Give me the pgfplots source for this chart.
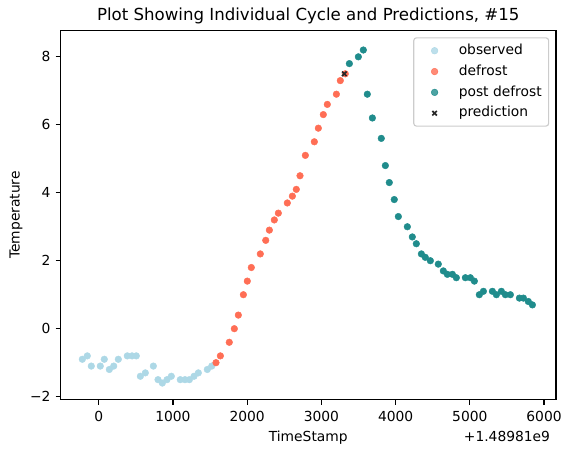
\documentclass[border=0pt]{standalone}
\usepackage{pgfplots}
\pgfplotsset{compat=1.18}
\usepackage{fontspec}
\setmainfont{DejaVu Sans}
\definecolor{obs}{RGB}{173,216,230}
\definecolor{dfr}{RGB}{255,110,85}
\definecolor{pdf}{RGB}{32,140,140}
\definecolor{prd}{RGB}{40,40,40}
\definecolor{lgd}{RGB}{204,204,204}
\pgfplotsset{lgmark/.style={legend image code/.code={\path[draw=none,fill=none] (0bp,0bp) (20bp,0bp);\draw[mark repeat=2,mark phase=2,##1] plot coordinates {(0bp,0bp)(10bp,0bp)(20bp,0bp)};}}}
\begin{document}
\begin{tikzpicture}
\path[use as bounding box] (-43.56bp,-38.38bp) rectangle (367.56bp,287.8bp);
\begin{axis}[
  scale only axis,
  width=356.76bp, height=265.97bp,
  xmin=-515, xmax=6161, ymin=-2.09, ymax=8.78,
  axis line style={line width=0.8bp},
  tick style={line width=0.8bp, black},
  tick align=outside, major tick length=3.5bp,
  xtick pos=bottom, ytick pos=left,
  xtick={0,1000,2000,3000,4000,5000,6000},
  xticklabels={0,1000,2000,3000,4000,5000,6000},
  ytick={-2,0,2,4,6,8},
  yticklabels={−2,0,2,4,6,8},
  scaled x ticks=false,
  tick label style={font=\fontsize{10}{12}\selectfont},
  xticklabel style={inner sep=3.5bp, yshift=-1bp},
  yticklabel style={inner sep=3.5bp},
  title={Plot Showing Individual Cycle and Predictions, \#15},
  title style={at={(axis description cs:0.5,1)}, anchor=base, yshift=1.3bp, font=\fontsize{12}{14}\selectfont},
  xlabel={TimeStamp},
  xlabel style={at={(axis description cs:0.5,-0.112)}, anchor=base, font=\fontsize{10}{12}\selectfont},
  ylabel={Temperature},
  ylabel style={at={(axis description cs:-0.090,0.5)}, anchor=center, font=\fontsize{10}{12}\selectfont},
  legend cell align=left,
  legend style={at={(rel axis cs:1,1)}, anchor=north east, xshift=-4.9bp, yshift=-5bp,
    draw=lgd, line width=0.8bp, rounded corners=2bp, fill=white, fill opacity=0.8, text opacity=1,
    font=\fontsize{10}{12}\selectfont, inner xsep=5bp, inner ysep=2.8bp, row sep=2bp,
    nodes={inner xsep=0pt, inner ysep=1.5bp, text height=7.6bp, text depth=2.4bp},
    /tikz/every odd column/.append style={column sep=7.4bp}},
]
\addplot[only marks, lgmark, mark=*, mark size=2.4bp, mark options={fill=obs, draw=obs, line width=0.3bp}] coordinates {
(-221,-0.9) (-154,-0.8) (-100,-1.1) (21,-1.1) (75,-0.9) (143,-1.2) (202,-1.1) (264,-0.9)
(385,-0.8) (449,-0.8) (506,-0.8) (561,-1.4) (628,-1.3) (736,-1.1) (799,-1.5) (857,-1.6)
(920,-1.5) (978,-1.4) (1099,-1.5) (1162,-1.5) (1221,-1.5) (1284,-1.4) (1342,-1.3) (1463,-1.2) (1523,-1.1)
};
\addlegendentry{observed}
\addplot[only marks, lgmark, mark=*, mark size=2.4bp, mark options={fill=dfr, draw=dfr, line width=0.3bp}] coordinates {
(1580,-1.0) (1639,-0.8) (1759,-0.4) (1827,0.0) (1881,0.4) (1949,1.0) (2002,1.4) (2056,1.8)
(2177,2.2) (2250,2.6) (2299,2.9) (2366,3.2) (2420,3.4) (2541,3.7) (2609,3.9) (2662,4.1)
(2712,4.5) (2784,5.1) (2905,5.5) (2959,5.9) (3026,6.3) (3080,6.6) (3202,6.9) (3255,7.3) (3322,7.5)
};
\addlegendentry{defrost}
\addplot[only marks, lgmark, mark=*, mark size=2.4bp, mark options={fill=pdf, draw=pdf, line width=0.3bp}] coordinates {
(3377,7.8) (3498,8.0) (3565,8.2) (3619,6.9) (3687,6.2) (3807,5.6) (3862,4.8) (3915,4.3)
(3982,3.8) (4037,3.3) (4158,3.0) (4225,2.7) (4279,2.5) (4347,2.2) (4400,2.1) (4468,2.0)
(4575,1.9) (4643,1.7) (4697,1.6) (4765,1.6) (4818,1.5) (4940,1.5) (5007,1.5) (5061,1.4)
(5128,1.0) (5183,1.1) (5304,1.1) (5358,1.0) (5425,1.1) (5479,1.0) (5546,1.0) (5668,0.9)
(5722,0.9) (5788,0.8) (5843,0.7)
};
\addlegendentry{post defrost}
\addplot[only marks, lgmark, mark=x, mark size=2.3bp, mark options={draw=prd, line width=1.2bp}] coordinates {
(3309,7.5)
};
\addlegendentry{prediction}
\end{axis}
\node[anchor=base east, font=\fontsize{10}{12}\selectfont] at (356bp,-29.8bp) {+1.48981e9};
\end{tikzpicture}
\end{document}
